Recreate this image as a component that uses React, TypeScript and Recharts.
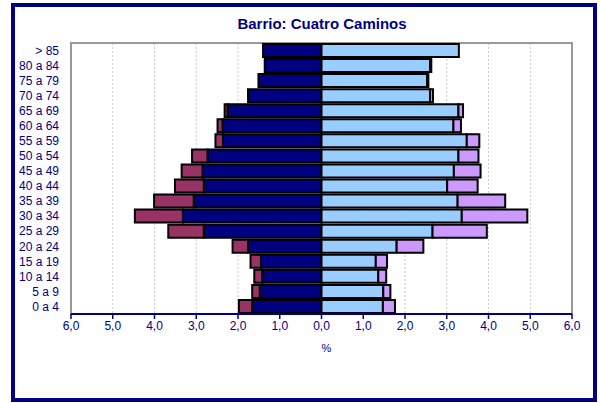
import { BarChart, Bar, XAxis, YAxis, CartesianGrid, ReferenceArea } from 'recharts';

// Age groups, top to bottom
const AGE_GROUPS = [
  '> 85', '80 a 84', '75 a 79', '70 a 74', '65 a 69', '60 a 64', '55 a 59', '50 a 54', '45 a 49',
  '40 a 44', '35 a 39', '30 a 34', '25 a 29', '20 a 24', '15 a 19', '10 a 14', '5 a 9', '0 a 4'
];

// % of population
const MEN_SPANISH = [1.40, 1.36, 1.51, 1.76, 2.25, 2.37, 2.36, 2.73, 2.85, 2.82, 3.06, 3.32, 2.82, 1.76, 1.45, 1.42, 1.48, 1.66];
const MEN_FOREIGN = [0.0, 0.0, 0.0, 0.0, 0.07, 0.12, 0.18, 0.37, 0.5, 0.69, 0.95, 1.15, 0.85, 0.37, 0.25, 0.19, 0.18, 0.32];
const WOMEN_SPANISH = [3.29, 2.6, 2.53, 2.6, 3.28, 3.16, 3.48, 3.28, 3.17, 3.01, 3.26, 3.36, 2.66, 1.8, 1.3, 1.36, 1.48, 1.47];
const WOMEN_FOREIGN = [0.0, 0.03, 0.03, 0.07, 0.11, 0.18, 0.3, 0.48, 0.64, 0.73, 1.14, 1.57, 1.3, 0.64, 0.27, 0.19, 0.17, 0.29];

const X_TICKS = [-6, -5, -4, -3, -2, -1, 0, 1, 2, 3, 4, 5, 6];

const NAVY = '#000080';
const FONT = 'Arial, "Liberation Sans", sans-serif';

const chartData = AGE_GROUPS.map((age, i) => ({
  age,
  menEs: -MEN_SPANISH[i],
  menExt: -MEN_FOREIGN[i],
  womenEs: WOMEN_SPANISH[i],
  womenExt: WOMEN_FOREIGN[i]
}));

const fmt = (v: number) => Math.abs(v).toFixed(1).replace('.', ',');

export default function App() {
  return (
    <div style={{ position: 'fixed', left: 0, top: 0, width: 600, height: 403, background: '#fff', fontFamily: FONT }}>
      <div
        style={{
          position: 'absolute',
          left: 11,
          top: 3,
          width: 578,
          height: 391,
          border: `4px solid ${NAVY}`
        }}
      />
      <div
        style={{
          position: 'absolute',
          left: 0,
          width: 644,
          top: 15,
          textAlign: 'center',
          color: NAVY,
          fontWeight: 'bold',
          fontSize: 15
        }}
      >
        Barrio: Cuatro Caminos
      </div>
      <div style={{ position: 'absolute', left: 0, top: 0 }}>
        <BarChart
          width={600}
          height={403}
          data={chartData}
          layout="vertical"
          stackOffset="sign"
          barCategoryGap={1}
          margin={{ top: 43, right: 28, left: 10, bottom: 49 }}
        >
          <CartesianGrid horizontal={false} stroke="#c8c8c8" strokeDasharray="2 2" />
          <ReferenceArea x1={-6} x2={6} fill="none" stroke="#999" strokeWidth={2} ifOverflow="visible" />
          <XAxis
            type="number"
            domain={[-6, 6]}
            ticks={X_TICKS}
            tickFormatter={fmt}
            axisLine={{ stroke: NAVY, strokeWidth: 2 }}
            tickLine={{ stroke: NAVY, strokeWidth: 1.5 }}
            tickSize={5}
            tick={{ fill: NAVY, fontSize: 12, fontFamily: FONT }}
            height={40}
            label={{ value: '%', position: 'insideBottom', offset: 2, fill: NAVY, fontSize: 11, fontFamily: FONT, dx: 5 }}
          />
          <YAxis
            type="category"
            dataKey="age"
            width={61}
            interval={0}
            axisLine={false}
            tickLine={false}
            tickMargin={6}
            tick={{ fill: NAVY, fontSize: 12, fontFamily: FONT }}
          />
          <Bar dataKey="menEs" stackId="p" fill={NAVY} stroke="#000" strokeWidth={2} isAnimationActive={false} />
          <Bar dataKey="menExt" stackId="p" fill="#993366" stroke="#000" strokeWidth={2} isAnimationActive={false} />
          <Bar dataKey="womenEs" stackId="p" fill="#99CCFF" stroke="#000" strokeWidth={2} isAnimationActive={false} />
          <Bar dataKey="womenExt" stackId="p" fill="#CC99FF" stroke="#000" strokeWidth={2} isAnimationActive={false} />
        </BarChart>
      </div>
    </div>
  );
}
